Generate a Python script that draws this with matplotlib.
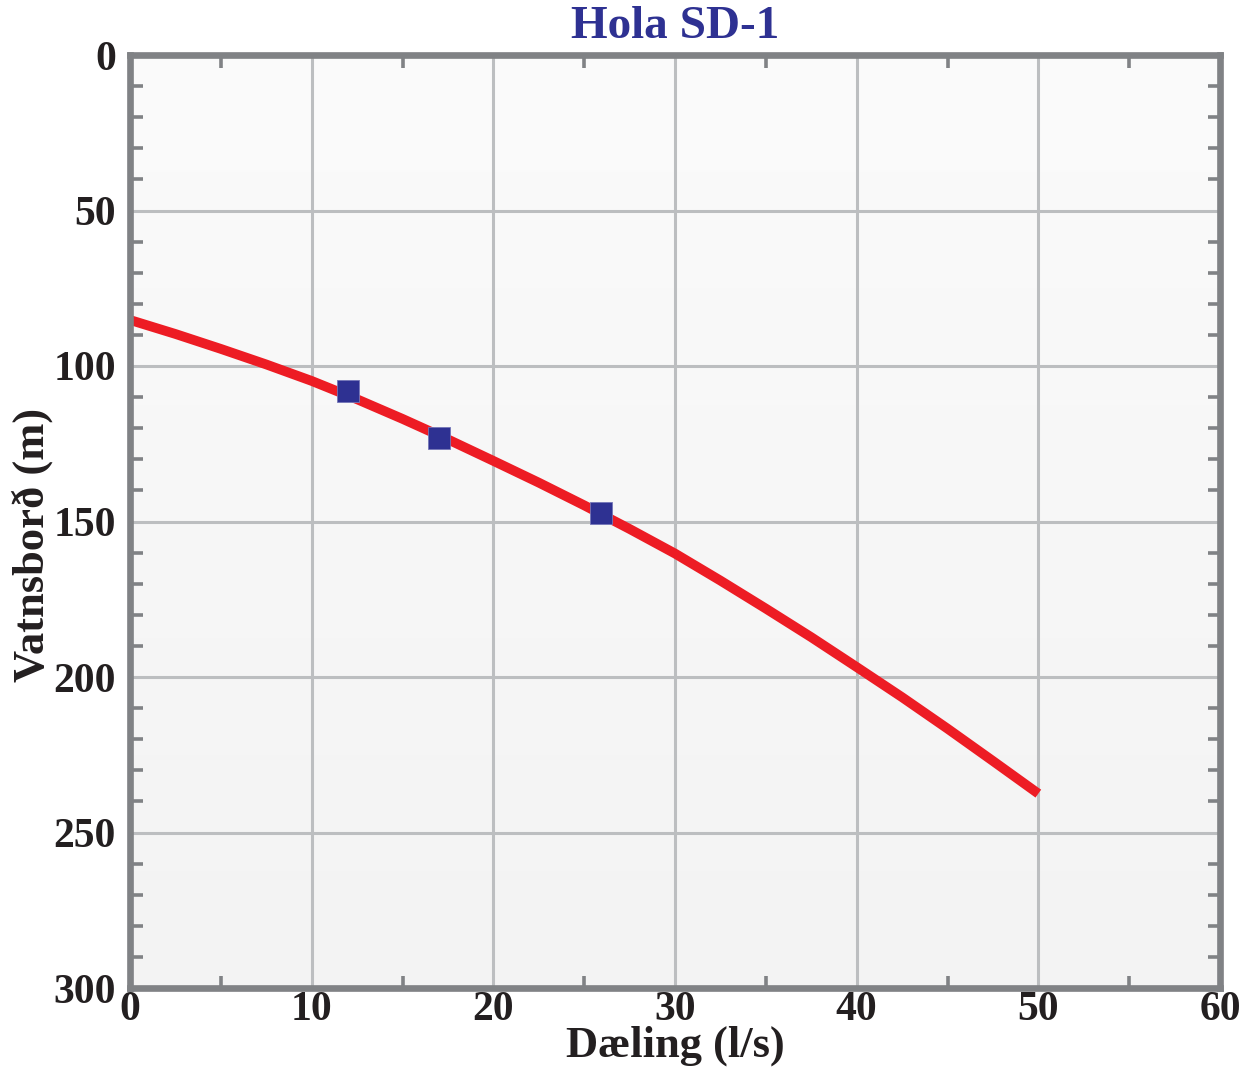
import numpy as np
import matplotlib
matplotlib.use("Agg")
import matplotlib.pyplot as plt
from matplotlib.ticker import MultipleLocator

# data
curve_q = [0, 2.5, 5, 7.5, 10, 12.5, 15, 17.5, 20, 22.5, 25, 27.5,
           30, 32.5, 35, 37.5, 40, 42.5, 45, 47.5, 50]
curve_level = [85.2, 89.7, 94.5, 99.5, 104.8, 110.7, 117.0, 123.6, 130.5, 137.5, 144.8, 152.4,
               160.3, 169.0, 178.0, 187.2, 196.8, 206.5, 216.6, 227.0, 237.5]
meas_q = [12.0, 17.0, 25.9]
meas_level = [108.0, 123.0, 147.2]

title = "Hola SD-1"
xlabel = "Dæling (l/s)"
ylabel = "Vatnsborð (m)"

SPINE = "#808285"
GRID = "#bcbec0"
DARK = "#231f20"
RED = "#ed1c24"
BLUE = "#2e3192"

plt.rcParams["font.family"] = ["Liberation Serif", "DejaVu Serif"]
plt.rcParams["font.weight"] = "bold"

fig = plt.figure(figsize=(12.42, 10.69), dpi=100)
ax = fig.add_axes([130 / 1242, 1 - 988 / 1069, 1090 / 1242, 933 / 1069])

# soft vertical background gradient
grad = np.linspace(0, 1, 256).reshape(-1, 1)
ax.imshow(grad, cmap=matplotlib.colors.LinearSegmentedColormap.from_list("bg", ["#fbfbfb", "#f3f3f3"]),
          extent=[0, 1, 0, 1], transform=ax.transAxes, aspect="auto", zorder=0, origin="upper")

ax.set_xlim(0, 60)
ax.set_ylim(300, 0)
ax.xaxis.set_major_locator(MultipleLocator(10))
ax.xaxis.set_minor_locator(MultipleLocator(5))
ax.yaxis.set_major_locator(MultipleLocator(50))
ax.yaxis.set_minor_locator(MultipleLocator(10))
ax.grid(True, which="major", color=GRID, lw=2.2, zorder=1)
ax.set_axisbelow(True)

ax.plot(curve_q, curve_level, color=RED, lw=7, solid_capstyle="butt", solid_joinstyle="round", zorder=3)
ax.plot(meas_q, meas_level, ls="none", marker="s", ms=16.5, mfc=BLUE, mec="#7476b8", mew=0.6, zorder=4)

for s in ax.spines.values():
    s.set_color(SPINE)
    s.set_linewidth(4.8)
    s.set_zorder(5)

ax.tick_params(which="major", length=0, pad=10, labelsize=30)
ax.tick_params(axis="x", which="major", pad=2)
ax.tick_params(which="minor", direction="in", length=9, width=2.6, top=True, right=True, color=SPINE)
for t in ax.yaxis.get_minor_ticks():
    t.tick1line.set_color(DARK)
    t.tick2line.set_color(SPINE)

for lab in ax.get_xticklabels() + ax.get_yticklabels():
    lab.set_fontweight("bold")
    lab.set_color(DARK)

ax.set_ylabel(ylabel, fontsize=32, fontweight="bold", color=DARK)
ax.yaxis.set_label_coords(-0.071, 0.475)
fig.text(0.5 * (130 + 1220) / 1242, 1 - 1046 / 1069, xlabel, ha="center", va="center",
         fontsize=32, fontweight="bold", color=DARK)
fig.text(0.5 * (130 + 1220) / 1242, 1 - 27 / 1069, title, ha="center", va="center",
         fontsize=34, fontweight="bold", color=BLUE)

fig.savefig("out.png", dpi=100)
